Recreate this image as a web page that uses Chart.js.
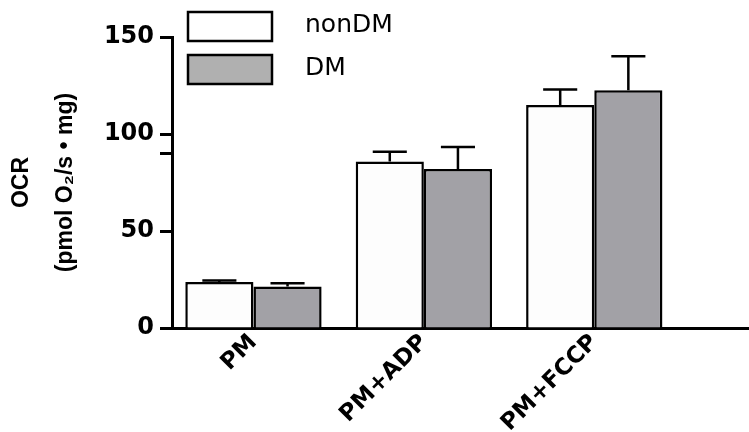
<!DOCTYPE html>
<html>
<head>
<meta charset="utf-8">
<title>OCR</title>
<script src="https://cdn.jsdelivr.net/npm/chart.js@4"></script>
<style>
  body { margin: 0; background: #ffffff; }
  #caja { width: 749px; height: 432px; position: relative; }
</style>
</head>
<body>
<div id="caja"><canvas id="grafica"></canvas></div>
<script>
const categorias = ["PM", "PM+ADP", "PM+FCCP"];
const posiciones = [1, 2, 3];
const nonDM = [23.7, 85.8, 114.9];
const nonDMError = [0.8, 5.1, 8.0];
const DM = [21.4, 81.9, 122.6];
const DMError = [1.7, 11.4, 17.5];
const yTicks = [0, 50, 90, 100, 150];
const yTickLabels = ["0", "50", "", "100", "150"];

const errores = [nonDMError, DMError];

const barrasError = {
    id: "barrasError",
    afterDatasetsDraw(chart) {
        const ctx = chart.ctx;
        const y = chart.scales.y;
        ctx.save();
        ctx.strokeStyle = "#000000";
        ctx.lineWidth = 2.5;
        chart.data.datasets.forEach((ds, i) => {
            const meta = chart.getDatasetMeta(i);
            meta.data.forEach((barra, j) => {
                const valor = ds.data[j].y;
                const tope = y.getPixelForValue(valor + errores[i][j]);
                const mitad = barra.width / 4;
                ctx.beginPath();
                ctx.moveTo(barra.x, barra.y);
                ctx.lineTo(barra.x, tope);
                ctx.moveTo(barra.x - mitad, tope);
                ctx.lineTo(barra.x + mitad, tope);
                ctx.stroke();
            });
        });
        ctx.restore();
    }
};

const leyenda = {
    id: "leyenda",
    afterDraw(chart) {
        const ctx = chart.ctx;
        const izq = chart.chartArea.left + 16;
        const colores = ["#ffffff", "#b0b0b0"];
        ctx.save();
        chart.data.datasets.forEach((ds, i) => {
            const arriba = 12 + i * 43;
            ctx.fillStyle = colores[i];
            ctx.fillRect(izq, arriba, 84, 29);
            ctx.strokeStyle = "#000000";
            ctx.lineWidth = 2.5;
            ctx.strokeRect(izq, arriba, 84, 29);
            ctx.fillStyle = "#000000";
            ctx.font = "25px 'DejaVu Sans'";
            ctx.textBaseline = "middle";
            ctx.textAlign = "left";
            ctx.fillText(ds.label, izq + 117, arriba + 13);
        });
        ctx.restore();
    }
};

const ctx = document.getElementById("grafica").getContext("2d");
new Chart(ctx, {
    type: "bar",
    data: {
        datasets: [{
            label: "nonDM",
            data: posiciones.map((p, i) => ({ x: p, y: nonDM[i] })),
            backgroundColor: "#fdfdfd",
            borderColor: "#000000",
            borderWidth: 2.5
        }, {
            label: "DM",
            data: posiciones.map((p, i) => ({ x: p, y: DM[i] })),
            backgroundColor: "#a2a1a6",
            borderColor: "#000000",
            borderWidth: 2.5
        }]
    },
    options: {
        responsive: true,
        maintainAspectRatio: false,
        animation: false,
        categoryPercentage: 0.8,
        barPercentage: 1,
        layout: { padding: { top: 37, left: 0, right: 0, bottom: 0 } },
        plugins: {
            legend: { display: false },
            tooltip: { enabled: false }
        },
        scales: {
            x: {
                type: "linear",
                offset: false,
                min: 0.522,
                max: 3.908,
                afterBuildTicks: (eje) => { eje.ticks = posiciones.map(v => ({ value: v })); },
                afterFit: (eje) => { eje.height = 104; },
                grid: { display: true, drawOnChartArea: false, drawTicks: false },
                border: { color: "#000000", width: 3 },
                ticks: {
                    autoSkip: false,
                    minRotation: 45,
                    maxRotation: 45,
                    padding: 1,
                    color: "#000000",
                    font: { family: "'DejaVu Sans'", size: 23, weight: "bold" },
                    callback: (v) => categorias[posiciones.indexOf(v)]
                }
            },
            y: {
                min: 0,
                max: 150,
                afterBuildTicks: (eje) => { eje.ticks = yTicks.map(v => ({ value: v })); },
                afterFit: (eje) => { eje.width = 172; },
                grid: { drawOnChartArea: false, tickLength: 12, tickWidth: 3, tickColor: "#000000" },
                border: { color: "#000000", width: 3 },
                ticks: {
                    padding: 6,
                    color: "#000000",
                    font: { family: "'DejaVu Sans'", size: 24, weight: "bold" },
                    callback: (v) => yTickLabels[yTicks.indexOf(v)]
                },
                title: {
                    display: true,
                    text: ["OCR", "(pmol O\u2082/s \u2022 mg)"],
                    color: "#000000",
                    padding: { top: 0, bottom: 0 },
                    font: { family: "'Liberation Sans'", size: 23, weight: "bold", lineHeight: 1.9 }
                }
            }
        }
    },
    plugins: [barrasError, leyenda]
});
</script>
</body>
</html>
